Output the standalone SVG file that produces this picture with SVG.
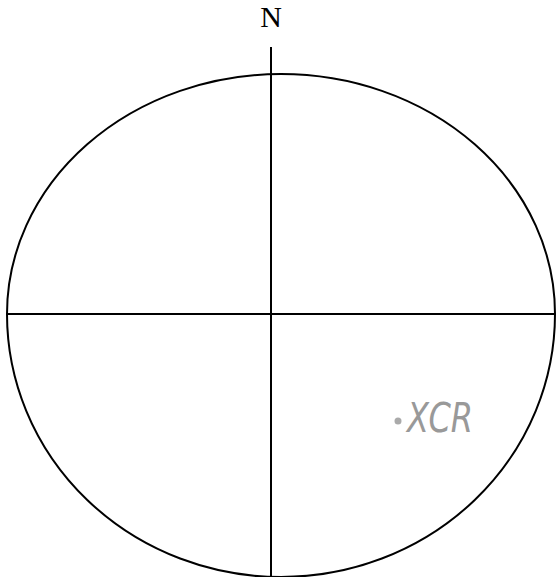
<svg xmlns="http://www.w3.org/2000/svg" width="556" height="577" viewBox="0 0 556 577">
<style>
.ln{fill:none;stroke:#000;stroke-width:2}
.lbl{font-family:"Liberation Serif",serif;font-size:30px;fill:#000}
.hand{font-family:"DejaVu Sans",sans-serif;font-size:40px;font-weight:200;fill:#999;font-style:italic}
</style>
<rect width="556" height="577" fill="#fff"/>
<g id="circle">
<path class="ln" d="M7,314 A274,240 0 0 1 555,314 A274,263 0 0 1 7,314 Z"/>
</g>
<g id="connectors">
<line class="ln" x1="7" y1="314" x2="555" y2="314"/>
<line class="ln" x1="271" y1="47" x2="271" y2="577"/>
</g>
<g id="north">
<text class="lbl" x="271" y="27" text-anchor="middle">N</text>
</g>
<g id="xcr">
<circle cx="398" cy="421" r="3.5" fill="#aaa"/>
<text class="hand" x="407" y="432" textLength="66" lengthAdjust="spacingAndGlyphs">XCR</text>
</g>
</svg>
